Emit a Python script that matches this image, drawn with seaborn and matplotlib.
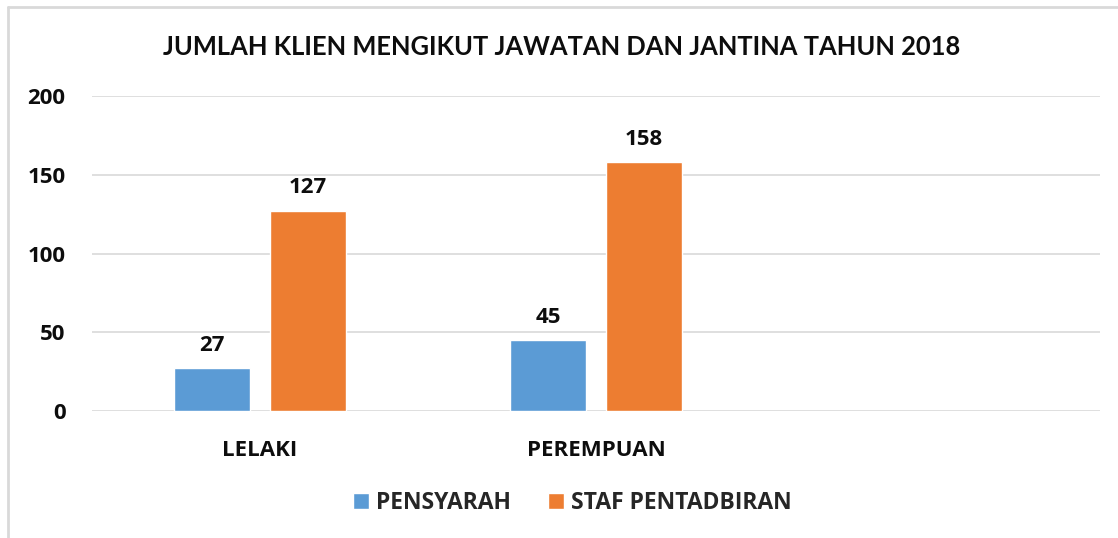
import matplotlib
matplotlib.use("Agg")
import matplotlib.pyplot as plt
from matplotlib.lines import Line2D
import seaborn as sns
import pandas as pd

categories = ["LELAKI", "PEREMPUAN"]
series_names = ["PENSYARAH", "STAF PENTADBIRAN"]
pensyarah = [27, 45]
staf_pentadbiran = [127, 158]
y_ticks = [0, 50, 100, 150, 200]
title = "JUMLAH KLIEN MENGIKUT JAWATAN DAN JANTINA TAHUN 2018"

colors = ["#5B9BD5", "#ED7D31"]

df = pd.DataFrame({
    "Jantina": categories * 2,
    "Jawatan": [series_names[0]] * 2 + [series_names[1]] * 2,
    "Bilangan": pensyarah + staf_pentadbiran,
})

sns.set_theme(style="white")
plt.rcParams["font.family"] = ["Open Sans", "DejaVu Sans"]

fig = plt.figure(figsize=(11.18, 5.38), dpi=100)
ax = fig.add_axes([0.0823, 0.236, 0.9017, 0.5856])

sns.barplot(data=df, x="Jantina", y="Bilangan", hue="Jawatan",
            order=categories, hue_order=series_names, palette=colors,
            width=0.572, gap=0.21, saturation=1, ax=ax, legend=True)

ax.set_xlim(-0.5, 2.5)
ax.set_ylim(0, 200)
ax.set_yticks(y_ticks)
ax.set_yticklabels([str(t) for t in y_ticks])
ax.yaxis.grid(True, color="#D9D9D9", linewidth=1.2)
ax.set_axisbelow(True)
for s in ax.spines.values():
    s.set_visible(False)
ax.tick_params(axis="both", length=0)
ax.tick_params(axis="y", pad=19)
ax.tick_params(axis="x", pad=21)
for lbl in ax.get_yticklabels() + ax.get_xticklabels():
    lbl.set_fontsize(16)
    lbl.set_fontweight("bold")
    lbl.set_color("#0D0D0D")
ax.set_xlabel("")
ax.set_ylabel("")

for cont in ax.containers:
    ax.bar_label(cont, padding=9, fontsize=16, fontweight="bold", color="#0D0D0D")

handles, labels = ax.get_legend_handles_labels()
ax.legend_.remove()
fig.legend(handles, labels, loc="center", bbox_to_anchor=(0.512, 0.065), ncol=2,
           frameon=False, handlelength=0.72, handleheight=0.72, handletextpad=0.3,
           columnspacing=1.6, prop={"family": ["Open Sans", "DejaVu Sans"], "weight": "bold", "size": 16.5})

fig.text(0.502, 1 - 47 / 538, title, ha="center", va="center", fontsize=18.4, fontweight="bold",
         family=["Lato", "Open Sans", "DejaVu Sans"], color="#0D0D0D")

# chart frame (top and left edges visible)
fig.add_artist(Line2D([8 / 1118, 1.0], [1 - 7 / 538, 1 - 7 / 538], transform=fig.transFigure,
                      color="#D9D9D9", linewidth=2))
fig.add_artist(Line2D([8 / 1118, 8 / 1118], [0, 1 - 7 / 538], transform=fig.transFigure,
                      color="#D9D9D9", linewidth=2))

fig.savefig("out.png", dpi=100)
